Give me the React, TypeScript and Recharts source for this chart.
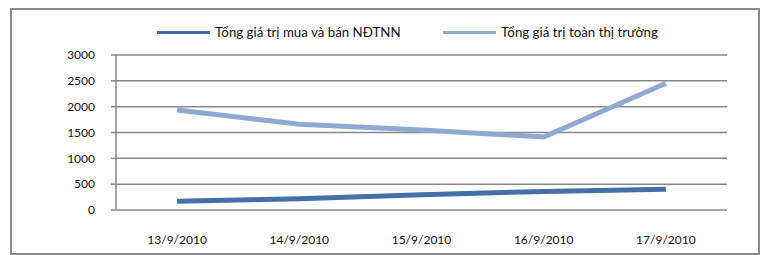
import React from "react";
import { LineChart, Line, XAxis, YAxis, CartesianGrid, Legend } from "recharts";

const dates = ["13/9/2010", "14/9/2010", "15/9/2010", "16/9/2010", "17/9/2010"];
const foreignValues = [168, 219, 296, 360, 400];
const marketValues = [1935, 1660, 1548, 1413, 2452];
const yTicks = [0, 500, 1000, 1500, 2000, 2500, 3000];
const seriesNames = ["Tổng giá trị mua và bán NĐTNN", "Tổng giá trị toàn thị trường"];
const colors = ["#4470A8", "#8EA9D2"];

const data = dates.map((d, i) => ({
  date: d,
  idx: i + 0.5,
  foreign: foreignValues[i],
  market: marketValues[i],
}));

const FONT = "Lato, 'Open Sans', sans-serif";

const LegendContent = () => (
  <div style={{ position: "relative", height: 20, fontFamily: FONT, fontSize: 13.3, color: "#111" }}>
    {[0, 1].map((i) => (
      <div key={i} style={{ position: "absolute", left: i === 0 ? 157 : 443, top: 0, display: "flex", alignItems: "center", whiteSpace: "nowrap" }}>
        <div style={{ width: 53, height: 3, background: colors[i], marginRight: 5 }} />
        <span>{seriesNames[i]}</span>
      </div>
    ))}
  </div>
);

export default function App() {
  return (
    <div style={{ position: "absolute", left: 0, top: 0, width: 765, height: 255, background: "#fff" }}>
      <div style={{ position: "absolute", left: 10, top: 8, width: 750, height: 247, border: "2px solid #8a8a8a", boxSizing: "border-box" }} />
      <div style={{ position: "absolute", left: 0, top: 0 }}>
        <LineChart width={765} height={255} data={data} margin={{ top: 35, right: 38, bottom: 0, left: 0 }}>
          <CartesianGrid vertical={false} stroke="#888" strokeWidth={1.5} />
          <XAxis
            xAxisId="num"
            type="number"
            dataKey="idx"
            domain={[0, 5]}
            ticks={[0, 1, 2, 3, 4, 5]}
            tick={false}
            tickSize={5}
            height={0}
            stroke="#888"
            strokeWidth={1.5}
          />
          <XAxis
            xAxisId="cat"
            dataKey="date"
            scale="band"
            axisLine={false}
            tickLine={false}
            height={45}
            tick={{ fontFamily: FONT, fontSize: 12, fill: "#111" }}
            dy={17}
          />
          <YAxis
            xAxisId="cat"
            domain={[0, 3000]}
            ticks={yTicks}
            width={116}
            tickSize={5}
            tickMargin={16}
            stroke="#888"
            strokeWidth={1.5}
            tick={{ fontFamily: FONT, fontSize: 12, fill: "#111" }}
            interval={0}
          />
          <Legend verticalAlign="top" height={20} content={<LegendContent />} wrapperStyle={{ position: "absolute", top: 24, left: 0, width: 765 }} />
          <Line xAxisId="cat" dataKey="foreign" name={seriesNames[0]} stroke={colors[0]} strokeWidth={5} dot={false} isAnimationActive={false} />
          <Line xAxisId="cat" dataKey="market" name={seriesNames[1]} stroke={colors[1]} strokeWidth={5} dot={false} isAnimationActive={false} />
        </LineChart>
      </div>
    </div>
  );
}
